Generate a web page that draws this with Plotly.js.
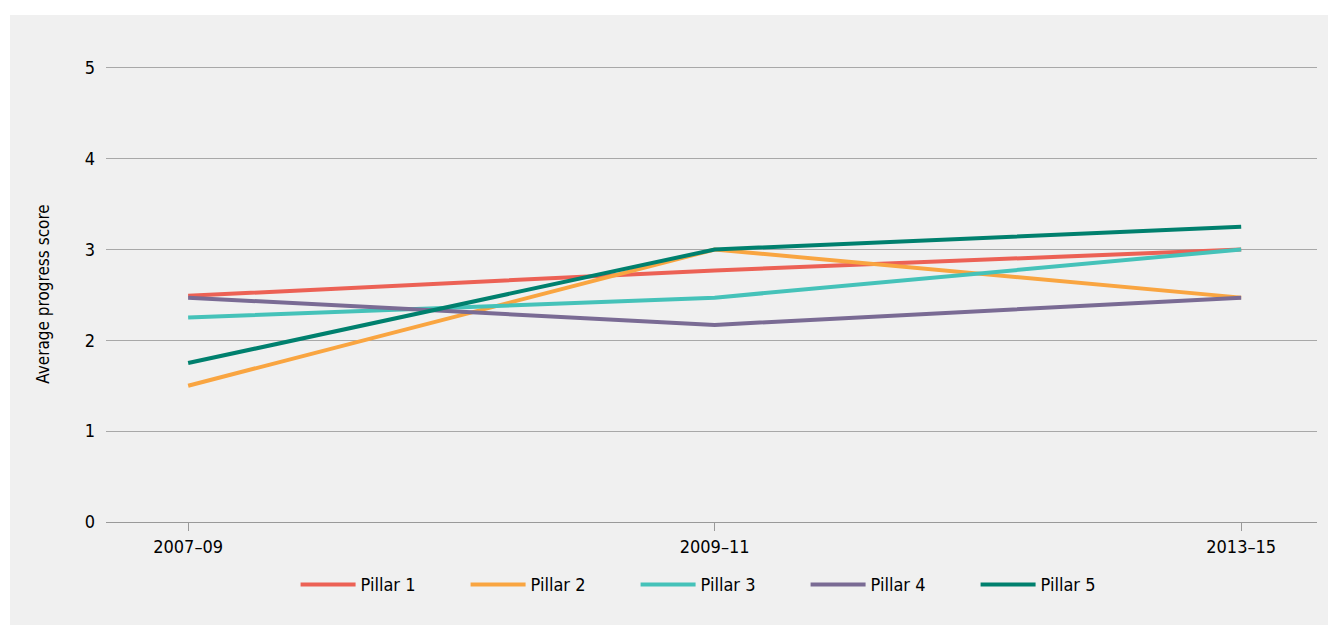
<!DOCTYPE html>
<html>
<head>
<meta charset="utf-8">
<script src="https://cdn.plot.ly/plotly-3.0.1.min.js"></script>
<style>
  html, body { margin: 0; padding: 0; background: #ffffff; }
  #chart { position: absolute; left: 10px; top: 15px; width: 1318px; height: 610px; }
</style>
</head>
<body>
<div id="chart"></div>
<script>
// Survey periods on the x axis
const periods = ['2007–09', '2009–11', '2013–15'];

// Average progress score per pillar
const pillar1 = [2.49, 2.77, 3.0];
const pillar2 = [1.5, 3.0, 2.47];
const pillar3 = [2.25, 2.47, 3.0];
const pillar4 = [2.47, 2.17, 2.47];
const pillar5 = [1.75, 3.0, 3.25];

const seriesNames = ['Pillar 1', 'Pillar 2', 'Pillar 3', 'Pillar 4', 'Pillar 5'];
const seriesValues = [pillar1, pillar2, pillar3, pillar4, pillar5];
const seriesColors = ['#ec6155', '#f9a541', '#45c2b9', '#7a6b94', '#00806e'];

const fontFamily = '"DejaVu Sans Condensed", "Liberation Sans Narrow", Roboto, sans-serif';

const traces = seriesNames.map((name, i) => ({
  type: 'scatter',
  mode: 'lines',
  name: name,
  x: periods,
  y: seriesValues[i],
  line: { color: seriesColors[i], width: 4 },
  hoverinfo: 'x+y+name'
}));

const layout = {
  width: 1318,
  height: 610,
  paper_bgcolor: '#f0f0f0',
  plot_bgcolor: '#f0f0f0',
  margin: { l: 96, r: 11, t: 51, b: 103 },
  font: { family: fontFamily, size: 18, color: '#000000' },
  showlegend: true,
  legend: {
    orientation: 'h',
    x: 0.5075,
    xanchor: 'center',
    y: -0.097,
    yanchor: 'top',
    itemwidth: 55,
    entrywidth: 100,
    entrywidthmode: 'pixels',
    font: { family: fontFamily, size: 18, color: '#000000' },
    bgcolor: 'rgba(0,0,0,0)'
  },
  xaxis: {
    type: 'category',
    range: [-0.156, 2.144],
    showgrid: false,
    zeroline: false,
    showline: false,
    ticks: 'outside',
    ticklen: 8,
    tickcolor: '#999999',
    tickfont: { family: fontFamily, size: 18, color: '#000000' },
    fixedrange: true
  },
  yaxis: {
    range: [0, 5.02],
    tickvals: [0, 1, 2, 3, 4, 5],
    showgrid: true,
    gridcolor: '#a8a8a8',
    gridwidth: 1.3,
    zeroline: true,
    zerolinecolor: '#999999',
    zerolinewidth: 1.3,
    showline: false,
    ticks: '',
    ticklabelstandoff: 10,
    tickfont: { family: fontFamily, size: 18, color: '#000000' },
    title: {
      text: 'Average progress score',
      font: { family: fontFamily, size: 17, color: '#000000' },
      standoff: 30
    },
    fixedrange: true
  }
};

Plotly.newPlot('chart', traces, layout, { displayModeBar: false });
</script>
</body>
</html>
